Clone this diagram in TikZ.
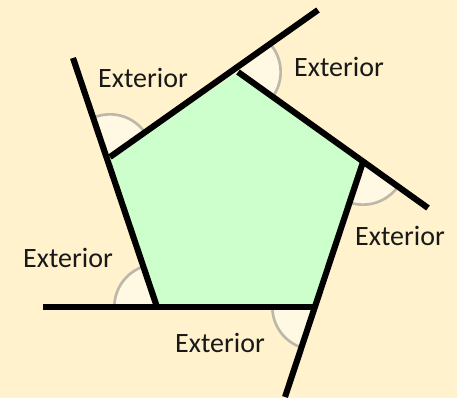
\documentclass[tikz,border=0pt]{standalone}
\usepackage{fontspec}
\setmainfont{Carlito}
\usetikzlibrary{angles}
\definecolor{bg}{HTML}{FFF2CC}
\definecolor{poly}{HTML}{CCFFCC}
\definecolor{sect}{HTML}{FFF8E2}
\definecolor{arcc}{HTML}{BDB8AA}
\tikzset{
  edge/.style={line width=4.6pt, line cap=butt},
  ext/.style={draw=arcc, line width=2pt, fill=sect, angle radius=32pt},
  lab/.style={font=\fontsize{21}{24}\selectfont, inner sep=0pt, text=black!90}
}
\begin{document}
\begin{tikzpicture}[x=0.75pt,y=0.75pt]
\fill[bg] (0,0) rectangle (457,398);
\useasboundingbox (0,0) rectangle (457,398);
% vertices
\coordinate (T) at (238,326);
\coordinate (R) at (363,236);
\coordinate (BR) at (315,91);
\coordinate (BL) at (157,91);
\coordinate (L) at (110,241);
% extension ends
\coordinate (E1) at (73,340);
\coordinate (E2) at (318,388);
\coordinate (E3) at (428,190);
\coordinate (E4) at (285,1);
\coordinate (E5) at (43,91);
% exterior angle sectors
\pic[ext] {angle = T--L--E1};
\pic[ext] {angle = R--T--E2};
\pic[ext] {angle = BR--R--E3};
\pic[ext] {angle = BL--BR--E4};
\pic[ext] {angle = L--BL--E5};
% pentagon
\fill[poly] (T) -- (R) -- (BR) -- (BL) -- (L) -- cycle;
% sides with extensions
\draw[edge] (BL) -- (E1);
\draw[edge] (L) -- (E2);
\draw[edge] (T) -- (E3);
\draw[edge] (R) -- (E4);
\draw[edge] (BR) -- (E5);
% labels
\node[lab] (l1) at (143,320.5) {Exterior};
\node[lab] (l2) at (339,331) {Exterior};
\node[lab] (l3) at (400,162) {Exterior};
\node[lab] (l4) at (68,140.5) {Exterior};
\node[lab] (l5) at (220,55) {Exterior};
\end{tikzpicture}
\end{document}
